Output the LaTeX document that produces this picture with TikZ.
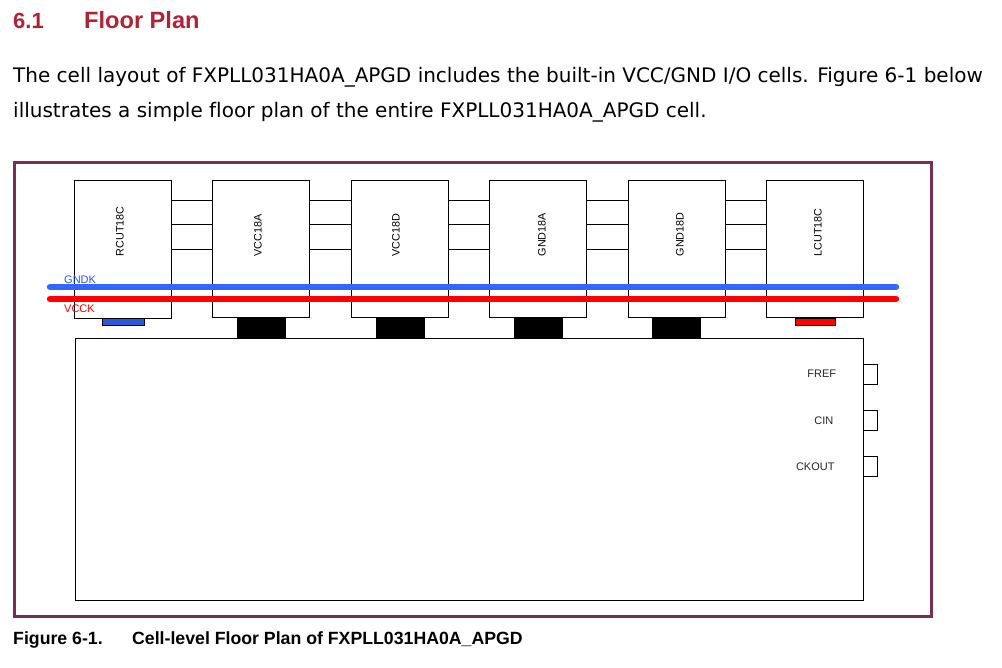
\documentclass[tikz,border=0pt]{standalone}
\usepackage{fontspec}
\setmainfont{Liberation Sans}
\newfontfamily\bodyfont[Ligatures=NoCommon]{DejaVu Sans}
\definecolor{headred}{HTML}{B22234}
\definecolor{framepurple}{HTML}{7A2E55}
\definecolor{railblue}{HTML}{3366FF}
\usetikzlibrary{positioning}
\tikzset{
  cellbox/.style={draw,line width=0.9pt,minimum width=97pt,minimum height=137pt,inner sep=0pt},
  padbox/.style={draw,fill=black,line width=0.9pt,minimum width=48pt,minimum height=20pt,inner sep=0pt},
  pinbox/.style={draw,line width=0.8pt,minimum width=14pt,minimum height=20pt,inner sep=0pt},
  celltext/.style={rotate=90,anchor=west,inner sep=0pt,font=\fontsize{10.8}{11}\selectfont},
  pintext/.style={inner sep=0pt,font=\fontsize{11}{11}\selectfont,text=black!85},
  railtext/.style={inner sep=0pt,font=\fontsize{11}{11}\selectfont},
  rail/.style={line width=6.4pt,line cap=round},
  bodyline/.style={anchor=base west,inner sep=0pt,font=\bodyfont\fontsize{20}{20}\selectfont},
}
\begin{document}
\begin{tikzpicture}[x=1pt,y=-1pt]
\useasboundingbox (0,0) rectangle (1002,668);
% page text
\node [anchor=base west,inner sep=0pt,text=headred,font=\bfseries\fontsize{22}{24}\selectfont] (nNum) at (13,29) {6.1};
\node [anchor=base west,inner sep=0pt,text=headred,font=\bfseries\fontsize{23.6}{24}\selectfont] (nHead) at (84,29) {Floor Plan};
\node [bodyline] (nLineA) at (13,82.7) {The cell layout of FXPLL031HA0A\_APGD includes the built-in VCC/GND I/O cells. Figure 6-1 below};
\node [bodyline] (nLineB) at (13,118) {illustrates a simple floor plan of the entire FXPLL031HA0A\_APGD cell.};
% outer frame
\node [draw=framepurple,line width=3pt,minimum width=917pt,minimum height=454pt,inner sep=0pt] (nFrame) at (472.7,389.3) {};
% top row of cells
\node [cellbox,minimum height=138pt] (nA) at (122.5,249.3) {};
\node [cellbox] (nB) at (261,248.8) {};
\node [cellbox] (nC) at (399.5,248.8) {};
\node [cellbox] (nD) at (538,248.8) {};
\node [cellbox] (nE) at (676.5,248.8) {};
\node [cellbox] (nF) at (814.5,248.8) {};
\node [celltext] (tA) at (120,256.5) {RCUT18C};
\node [celltext] (tB) at (258,256.5) {VCC18A};
\node [celltext] (tC) at (396,256.5) {VCC18D};
\node [celltext] (tD) at (542,256.5) {GND18A};
\node [celltext] (tE) at (680,256.5) {GND18D};
\node [celltext] (tF) at (818,256.5) {LCUT18C};
% links between cells
\foreach \from/\to in {nA/nB,nB/nC,nC/nD,nD/nE,nE/nF}
  \foreach \drop in {20.5,44.5,69.5}
    \draw [line width=0.9pt] ([yshift=-\drop pt]\from.north east) -- ([yshift=-\drop pt]\to.north west);
% core block
\node [draw,line width=0.9pt,minimum width=788pt,minimum height=262pt,inner sep=0pt] (nCore) at (469,469) {};
% pads under the cells
\node [padbox] (pB) at (261.5,328) {};
\node [padbox] (pC) at (400.5,328) {};
\node [padbox] (pD) at (538.5,328) {};
\node [padbox] (pE) at (676.5,328) {};
\node [draw,fill=railblue!85!black,line width=0.9pt,minimum width=42pt,minimum height=7pt,inner sep=0pt] (pA) at (123,322) {};
\node [draw,fill=red,line width=0.9pt,minimum width=40pt,minimum height=7pt,inner sep=0pt] (pF) at (815,322) {};
% power rails
\coordinate (gndL) at (50,287);
\coordinate (gndR) at (896,287);
\coordinate (vccL) at (50,299);
\coordinate (vccR) at (896,299);
\draw [rail,railblue] (gndL) -- (gndR);
\draw [rail,red] (vccL) -- (vccR);
\node [railtext,text=railblue!80!blue,anchor=west] (tGnd) at (64,279.5) {GNDK};
\node [railtext,text=red,anchor=west] (tVcc) at (64,308.5) {VCCK};
% pins on the core
\node [pinbox] (pinA) at (870,374) {};
\node [pinbox] (pinB) at (870,420) {};
\node [pinbox] (pinC) at (870,466) {};
\node [pintext,anchor=east] (tPinA) at (836.3,374) {FREF};
\node [pintext,anchor=east] (tPinB) at (833.5,420.6) {CIN};
\node [pintext,anchor=east] (tPinC) at (834.7,466.6) {CKOUT};
% caption
\node [anchor=base west,inner sep=0pt,font=\bfseries\fontsize{17.7}{18}\selectfont] (nFig) at (13,644.5) {Figure 6-1.};
\node [anchor=base west,inner sep=0pt,font=\bfseries\fontsize{17.7}{18}\selectfont] (nCap) at (132,644.5) {Cell-level Floor Plan of FXPLL031HA0A\_APGD};
\end{tikzpicture}
\end{document}
